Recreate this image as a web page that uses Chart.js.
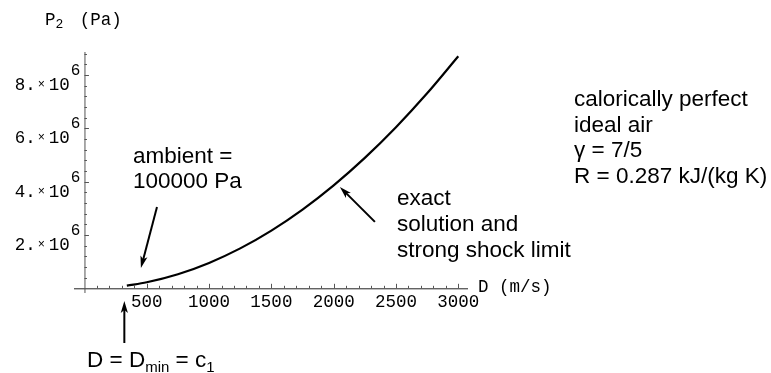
<!DOCTYPE html>
<html>
<head>
<meta charset="utf-8">
<script src="https://cdn.jsdelivr.net/npm/chart.js@4.4.0/dist/chart.umd.min.js"></script>
<style>
  html, body { margin: 0; padding: 0; background: #fff; }
  #wrap { width: 771px; height: 373px; }
</style>
</head>
<body>
<div id="wrap"><canvas id="myChart" width="771" height="373"></canvas></div>
<script>
/* P2 vs D, normal shock in calorically perfect air */

// shock speed D (m/s) and post-shock pressure P2 (Pa)
const dValues = [340, 500, 750, 1000, 1250, 1500, 1750, 2000, 2250, 2500, 2750, 3000];
const pValues = [1.0e5, 2.26e5, 5.28e5, 9.52e5, 1.497e6, 2.164e6, 2.951e6, 3.859e6, 4.889e6, 6.039e6, 7.311e6, 8.70e6];

// axis ticks
const xTickValues = [500, 1000, 1500, 2000, 2500, 3000];
const xTickLabels = ['500', '1000', '1500', '2000', '2500', '3000'];
const yTickValues = [2e6, 4e6, 6e6, 8e6];
const yTickLabels = ['2.', '4.', '6.', '8.'];
const yTickExponent = '6';

// annotation arrows, [D, P2] from -> to
const arrows = [
	{ from: [582, 3.05e6], to: [453, 0.76e6] },
	{ from: [2331, 2.49e6], to: [2050, 3.80e6] },
	{ from: [320, -2.05e6], to: [320, -0.476e6] }
];

const MONO = '"Liberation Mono", "Courier New", monospace';
const SANS = '"Liberation Sans", Arial, Helvetica, sans-serif';

function drawRuns(ctx, x, y, runs, align) {
	// runs: [{t, size, dy, gap, fam}]
	let total = 0;
	runs.forEach(function(r) {
		ctx.font = r.size + 'px ' + (r.fam || MONO);
		r.w = ctx.measureText(r.t).width;
		total += r.w + (r.gap || 0);
	});
	let cx = align === 'right' ? x - total : x;
	ctx.textAlign = 'left';
	ctx.textBaseline = 'alphabetic';
	runs.forEach(function(r) {
		ctx.font = r.size + 'px ' + (r.fam || MONO);
		ctx.fillText(r.t, cx, y + (r.dy || 0));
		cx += r.w + (r.gap || 0);
	});
}

function drawArrow(ctx, x1, y1, x2, y2) {
	const ang = Math.atan2(y2 - y1, x2 - x1);
	const head = 12, half = 3.6;
	const c = Math.cos(ang), s = Math.sin(ang);
	ctx.beginPath();
	ctx.moveTo(x1, y1);
	ctx.lineTo(x2 - head * 0.7 * c, y2 - head * 0.7 * s);
	ctx.stroke();
	ctx.beginPath();
	ctx.moveTo(x2, y2);
	ctx.lineTo(x2 - head * c + half * s, y2 - head * s - half * c);
	ctx.lineTo(x2 - head * 0.75 * c, y2 - head * 0.75 * s);
	ctx.lineTo(x2 - head * c - half * s, y2 - head * s + half * c);
	ctx.closePath();
	ctx.fill();
}

const axesPlugin = {
	id: 'mmaAxes',
	beforeDatasetsDraw: function(chart) {
		const ctx = chart.ctx;
		const xs = chart.scales.x, ys = chart.scales.y;
		const area = chart.chartArea;
		const x0 = xs.getPixelForValue(0);
		const y0 = ys.getPixelForValue(0);

		ctx.save();
		// axis lines
		ctx.lineWidth = 1;
		ctx.strokeStyle = '#222';
		ctx.beginPath();
		ctx.moveTo(area.left, y0 + 0.5);
		ctx.lineTo(area.right, y0 + 0.5);
		ctx.stroke();
		ctx.strokeStyle = '#555';
		ctx.beginPath();
		ctx.moveTo(x0 + 0.5, area.top);
		ctx.lineTo(x0 + 0.5, area.bottom);
		ctx.stroke();

		// x ticks, minor every 100
		ctx.strokeStyle = '#555';
		for (let v = 100; v <= 3000; v += 100) {
			const px = Math.round(xs.getPixelForValue(v)) + 0.5;
			const len = (v % 500 === 0) ? 4.5 : 2.5;
			ctx.beginPath();
			ctx.moveTo(px, y0);
			ctx.lineTo(px, y0 - len);
			ctx.stroke();
		}
		// y ticks, minor every 0.4e6
		for (let k = 1; k <= 22; k++) {
			const v = k * 4e5;
			const py = Math.round(ys.getPixelForValue(v)) + 0.5;
			const len = (k % 5 === 0) ? 4.5 : 2.5;
			ctx.beginPath();
			ctx.moveTo(x0, py);
			ctx.lineTo(x0 + len, py);
			ctx.stroke();
		}

		// tick labels
		ctx.fillStyle = '#000';
		ctx.font = '17.5px ' + MONO;
		ctx.textAlign = 'center';
		ctx.textBaseline = 'top';
		for (let i = 0; i < xTickValues.length; i++) {
			ctx.fillText(xTickLabels[i], xs.getPixelForValue(xTickValues[i]), y0 + 5);
		}
		for (let i = 0; i < yTickValues.length; i++) {
			const py = ys.getPixelForValue(yTickValues[i]);
			drawRuns(ctx, x0 - 4, py + 15, [
				{ t: yTickLabels[i], size: 17.5, gap: 2 },
				{ t: '\u00d7', size: 12, dy: -2, gap: 4 },
				{ t: '10', size: 17.5, gap: 1 },
				{ t: yTickExponent, size: 16, dy: -15 }
			], 'right');
		}

		// axis titles
		drawRuns(ctx, xs.getPixelForValue(3078) + 10, y0 + 4, [
			{ t: 'D (m/s)', size: 17.5 }
		], 'left');
		drawRuns(ctx, 45, 25, [
			{ t: 'P', size: 17.5 },
			{ t: '2', size: 13, dy: 3, gap: 6 },
			{ t: ' (Pa)', size: 17.5 }
		], 'left');
		ctx.restore();
	},
	afterDraw: function(chart) {
		const ctx = chart.ctx;
		const xs = chart.scales.x, ys = chart.scales.y;
		ctx.save();
		ctx.fillStyle = '#000';
		ctx.strokeStyle = '#000';
		ctx.lineWidth = 2;
		arrows.forEach(function(a) {
			drawArrow(ctx,
				xs.getPixelForValue(a.from[0]), ys.getPixelForValue(a.from[1]),
				xs.getPixelForValue(a.to[0]), ys.getPixelForValue(a.to[1]));
		});

		ctx.font = '22.5px ' + SANS;
		ctx.textAlign = 'left';
		ctx.textBaseline = 'alphabetic';
		ctx.fillText('ambient =', 133, 163);
		ctx.fillText('100000 Pa', 133, 188);

		ctx.fillText('exact', 397, 205);
		ctx.fillText('solution and', 397, 231);
		ctx.fillText('strong shock limit', 397, 257);

		ctx.fillText('calorically perfect', 574, 106);
		ctx.fillText('ideal air', 574, 131.5);
		ctx.fillText('\u03b3 = 7/5', 574, 157);
		ctx.fillText('R = 0.287 kJ/(kg K)', 574, 182.5);

		drawRuns(ctx, 87, 367, [
			{ t: 'D = D', size: 22.5, fam: SANS },
			{ t: 'min', size: 15, dy: 5, fam: SANS },
			{ t: ' = c', size: 22.5, fam: SANS },
			{ t: '1', size: 15, dy: 5, fam: SANS }
		], 'left');
		ctx.restore();
	}
};

const points = dValues.map(function(d, i) { return { x: d, y: pValues[i] }; });

const ctxChart = document.getElementById('myChart').getContext('2d');
const shockChart = new Chart(ctxChart, {
	type: 'scatter',
	data: {
		datasets: [
			{
				label: 'P2',
				data: points,
				showLine: true,
				borderColor: '#000',
				borderWidth: 2.2,
				pointRadius: 0,
				cubicInterpolationMode: 'monotone'
			}
		]
	},
	options: {
		responsive: false,
		devicePixelRatio: 1,
		animation: false,
		layout: { padding: { left: 74, right: 303, top: 52, bottom: 80 } },
		plugins: { legend: { display: false }, tooltip: { enabled: false } },
		scales: {
			x: { type: 'linear', min: -84, max: 3078, display: false },
			y: { type: 'linear', min: -0.176e6, max: 8.86e6, display: false }
		}
	},
	plugins: [axesPlugin]
});
</script>
</body>
</html>
